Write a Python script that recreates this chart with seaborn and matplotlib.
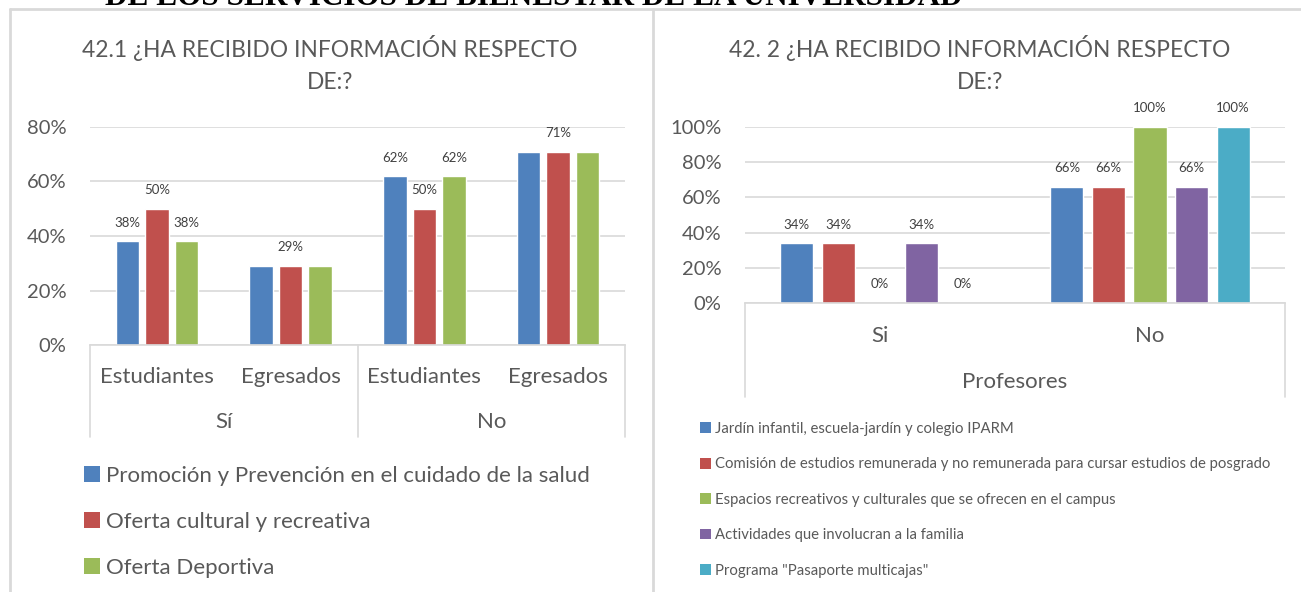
import pandas as pd
import seaborn as sns
import matplotlib.pyplot as plt
from matplotlib.patches import Patch
from matplotlib.lines import Line2D

# ---- data: 42.1 (left) ----
grupos_izq = ['Sí', 'Sí', 'No', 'No']
tipos_izq = ['Estudiantes', 'Egresados', 'Estudiantes', 'Egresados']
series_izq = ['Promoción y Prevención en el cuidado de la salud',
              'Oferta cultural y recreativa',
              'Oferta Deportiva']
promocion = [38, 29, 62, 71]
cultural = [50, 29, 50, 71]
deportiva = [38, 29, 62, 71]
# labels that are visible in the original chart
visibles_izq = [[True, False, True, False],
                [True, True, True, True],
                [True, False, True, False]]

# ---- data: 42.2 (right) ----
respuestas_der = ['Si', 'No']
grupo_der = 'Profesores'
series_der = ['Jardín infantil, escuela-jardín y colegio IPARM',
              'Comisión de estudios remunerada y no remunerada para cursar estudios de posgrado',
              'Espacios recreativos y culturales que se ofrecen en el campus',
              'Actividades que involucran a la familia',
              'Programa "Pasaporte multicajas"']
jardin = [34, 66]
comision = [34, 66]
espacios = [0, 100]
familia = [34, 66]
pasaporte = [0, 100]

colores = ['#4F81BD', '#C0504D', '#9BBB59', '#8064A2', '#4BACC6']
gris_txt = '#595959'
gris_linea = '#D9D9D9'

sns.set_theme(style='white')
plt.rcParams['font.family'] = ['Lato', 'DejaVu Sans']

# long tables for seaborn
claves_izq = [g + '-' + t for g, t in zip(grupos_izq, tipos_izq)]
filas = []
for serie, vals in zip(series_izq, [promocion, cultural, deportiva]):
    for k, v in zip(claves_izq, vals):
        filas.append({'cat': k, 'serie': serie, 'valor': v})
df_izq = pd.DataFrame(filas)

filas = []
for serie, vals in zip(series_der, [jardin, comision, espacios, familia, pasaporte]):
    for k, v in zip(respuestas_der, vals):
        filas.append({'cat': k, 'serie': serie, 'valor': v})
df_der = pd.DataFrame(filas)

W, H = 1301, 592
fig = plt.figure(figsize=(W / 100, H / 100), dpi=100)


def px_box(x0, y0, x1, y1):
    # pixel box (top-left origin) -> figure fraction rect
    return [x0 / W, 1 - y1 / H, (x1 - x0) / W, (y1 - y0) / H]


ax1 = fig.add_axes(px_box(90, 127, 625, 345))
ax2 = fig.add_axes(px_box(745, 127, 1285, 303))

# ---- left chart ----
sns.barplot(data=df_izq, x='cat', y='valor', hue='serie', order=claves_izq,
            hue_order=series_izq, palette=colores[:3], saturation=1,
            width=0.66, gap=0.2, ax=ax1, legend=False)
ax1.set_ylim(0, 80)
ax1.set_yticks([0, 20, 40, 60, 80])
ax1.set_yticklabels([f'{v}%' for v in [0, 20, 40, 60, 80]], fontsize=14.5, color=gris_txt)
for cont, vis in zip(ax1.containers, visibles_izq):
    etiquetas = [f'{int(b.get_height())}%' if s else '' for b, s in zip(cont, vis)]
    ax1.bar_label(cont, labels=etiquetas, padding=9, fontsize=9.5, color='#404040')

# ---- right chart ----
sns.barplot(data=df_der, x='cat', y='valor', hue='serie', order=respuestas_der,
            hue_order=series_der, palette=colores, saturation=1,
            width=0.77, gap=0.2, ax=ax2, legend=False)
ax2.set_ylim(0, 100)
ax2.set_yticks([0, 20, 40, 60, 80, 100])
ax2.set_yticklabels([f'{v}%' for v in [0, 20, 40, 60, 80, 100]], fontsize=14.5, color=gris_txt)
for cont in ax2.containers:
    ax2.bar_label(cont, labels=[f'{int(b.get_height())}%' for b in cont],
                  padding=9, fontsize=9.5, color='#404040')

for ax in (ax1, ax2):
    ax.set_xlabel('')
    ax.set_ylabel('')
    ax.set_xticks([])
    ax.grid(axis='y', color=gris_linea, lw=1.2)
    ax.set_axisbelow(True)
    for s in ['top', 'right', 'left']:
        ax.spines[s].set_visible(False)
    ax.spines['bottom'].set_color(gris_linea)
    ax.spines['bottom'].set_linewidth(1.2)
    ax.tick_params(axis='y', length=0, pad=17)

# multi-level category axis, left
for xf in [0, 0.5, 1]:
    ax1.add_line(Line2D([xf, xf], [0, -0.422], transform=ax1.transAxes,
                        color=gris_linea, lw=1.2, clip_on=False))
for i, t in enumerate(tipos_izq):
    ax1.text(i, -0.147, t, transform=ax1.get_xaxis_transform(), ha='center',
             va='center', fontsize=16, color=gris_txt)
for i, g in enumerate(['Sí', 'No']):
    ax1.text(0.25 + 0.5 * i, -0.353, g, transform=ax1.transAxes, ha='center',
             va='center', fontsize=16, color=gris_txt)

# multi-level category axis, right
for xf in [0, 1]:
    ax2.add_line(Line2D([xf, xf], [0, -0.534], transform=ax2.transAxes,
                        color=gris_linea, lw=1.2, clip_on=False))
for i, r in enumerate(respuestas_der):
    ax2.text(i, -0.19, r, transform=ax2.get_xaxis_transform(), ha='center',
             va='center', fontsize=16, color=gris_txt)
ax2.text(0.5, -0.45, grupo_der, transform=ax2.transAxes, ha='center',
         va='center', fontsize=16, color=gris_txt)

# titles
fig.text(330 / W, 1 - 64 / H, '42.1 ¿HA RECIBIDO INFORMACIÓN RESPECTO\nDE:?',
         ha='center', va='center', multialignment='center', fontsize=16.4,
         color=gris_txt, linespacing=1.6)
fig.text(980 / W, 1 - 64 / H, '42. 2 ¿HA RECIBIDO INFORMACIÓN RESPECTO\nDE:?',
         ha='center', va='center', multialignment='center', fontsize=16.4,
         color=gris_txt, linespacing=1.6)

# legends
h_izq = [Patch(facecolor=c, edgecolor='none') for c in colores[:3]]
fig.legend(h_izq, series_izq, loc='upper left', bbox_to_anchor=(84 / W, 1 - 466 / H),
           frameon=False, fontsize=16, labelcolor=gris_txt, handlelength=0.7,
           handleheight=0.7, handletextpad=0.3, labelspacing=1.16,
           borderpad=0, borderaxespad=0)
h_der = [Patch(facecolor=c, edgecolor='none') for c in colores]
fig.legend(h_der, series_der, loc='upper left', bbox_to_anchor=(700 / W, 1 - 422 / H),
           frameon=False, fontsize=10.7, labelcolor=gris_txt, handlelength=0.75,
           handleheight=0.75, handletextpad=0.25, labelspacing=1.44,
           borderpad=0, borderaxespad=0)

# panel frames
for xs, ys in [([10 / W, 1], [1 - 9 / H, 1 - 9 / H]),
               ([10 / W, 10 / W], [0, 1 - 9 / H]),
               ([653 / W, 653 / W], [0, 1 - 9 / H])]:
    fig.add_artist(Line2D(xs, ys, color=gris_linea, lw=2))

# cut-off heading above the panels
fig.text(105 / W, 1 - 5 / H, 'DE LOS SERVICIOS DE BIENESTAR DE LA UNIVERSIDAD',
         ha='left', va='baseline', fontsize=22.5, fontweight='bold',
         family='Liberation Serif', color='black')

fig.savefig('out.png', dpi=100, facecolor='white')
